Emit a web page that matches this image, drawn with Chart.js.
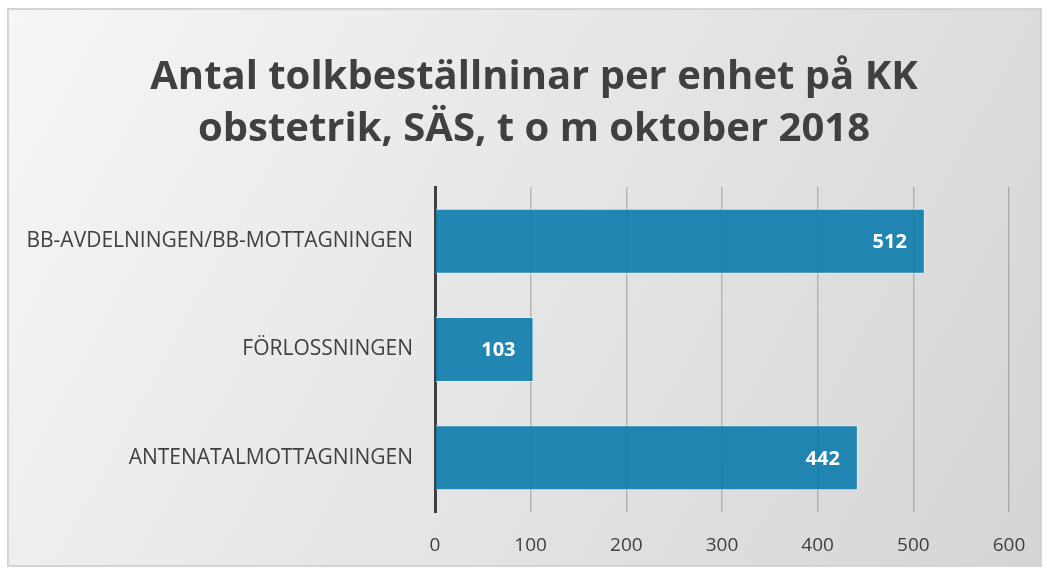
<!DOCTYPE html>
<html>
<head>
<meta charset="utf-8">
<script src="https://cdn.jsdelivr.net/npm/chart.js@4.4.0/dist/chart.umd.min.js"></script>
<style>
  html, body { margin: 0; padding: 0; background: #ffffff; }
  #wrap {
    position: absolute; left: 7px; top: 8px;
    width: 1031px; height: 555px;
    border: 2px solid #d4d4d4;
  }
</style>
</head>
<body>
<div id="wrap"><canvas id="chart"></canvas></div>
<script>
// data
var enheter = ['BB-AVDELNINGEN/BB-MOTTAGNINGEN', 'FÖRLOSSNINGEN', 'ANTENATALMOTTAGNINGEN'];
var antal = [512, 103, 442];
var xTicks = [0, 100, 200, 300, 400, 500, 600];
var titel = ['Antal tolkbeställninar per enhet på KK', 'obstetrik, SÄS, t o m oktober 2018'];

var bakgrund = {
    id: 'bakgrund',
    beforeDraw: function (chart) {
        var c = chart.ctx;
        var g = c.createLinearGradient(0, 0, chart.width, chart.height);
        g.addColorStop(0, '#f6f6f6');
        g.addColorStop(1, '#d5d5d5');
        c.save();
        c.fillStyle = g;
        c.fillRect(0, 0, chart.width, chart.height);
        c.restore();
    }
};

// titeln sitter lite till höger om mitten i originalet
var flyttaTitel = {
    id: 'flyttaTitel',
    afterLayout: function (chart) {
        if (chart.titleBlock) {
            chart.titleBlock.left += 20;
            chart.titleBlock.right += 20;
        }
    }
};

var etiketter = {
    id: 'etiketter',
    afterDatasetsDraw: function (chart) {
        var c = chart.ctx;
        var meta = chart.getDatasetMeta(0);
        c.save();
        c.fillStyle = '#ffffff';
        c.font = 'bold 20px "Open Sans"';
        c.textAlign = 'right';
        c.textBaseline = 'middle';
        meta.data.forEach(function (bar, i) {
            c.fillText(antal[i], bar.x - 18, bar.y + 1);
        });
        c.restore();
    }
};

var ctx = document.getElementById('chart').getContext('2d');
var chart = new Chart(ctx, {
    type: 'bar',
    data: {
        labels: enheter,
        datasets: [{
            data: antal,
            backgroundColor: 'rgba(12, 123, 172, 0.9)',
            borderColor: 'rgba(225, 240, 248, 0.8)',
            borderWidth: 1,
            borderSkipped: 'start',
            barPercentage: 0.6,
            categoryPercentage: 1
        }]
    },
    options: {
        indexAxis: 'y',
        responsive: true,
        maintainAspectRatio: false,
        animation: false,
        layout: { padding: { left: 10, right: 31, top: 12, bottom: 7 } },
        plugins: {
            legend: { display: false },
            tooltip: { enabled: false },
            title: {
                display: true,
                text: titel,
                color: '#404040',
                font: { family: 'Open Sans', size: 40, weight: 'bold', lineHeight: 1.3 },
                padding: { top: 30, bottom: 31 }
            }
        },
        scales: {
            x: {
                min: 0,
                max: 600,
                afterBuildTicks: function (axis) {
                    axis.ticks = xTicks.map(function (v) { return { value: v }; });
                },
                afterFit: function (axis) {
                    axis.height = 46;
                    axis.paddingLeft = 0;
                    axis.paddingRight = 0;
                },
                grid: { color: 'rgba(0,0,0,0.2)', lineWidth: 1.5, drawTicks: false },
                border: { display: false },
                ticks: { color: '#404040', font: { family: 'Open Sans', size: 19 }, padding: 22 }
            },
            y: {
                afterFit: function (axis) { axis.width = 416; },
                grid: { display: false, drawTicks: false },
                border: { display: true, color: '#404040', width: 3 },
                ticks: { color: '#404040', font: { family: 'Open Sans', size: 21 }, padding: 22 }
            }
        }
    },
    plugins: [bakgrund, flyttaTitel, etiketter]
});
</script>
</body>
</html>
